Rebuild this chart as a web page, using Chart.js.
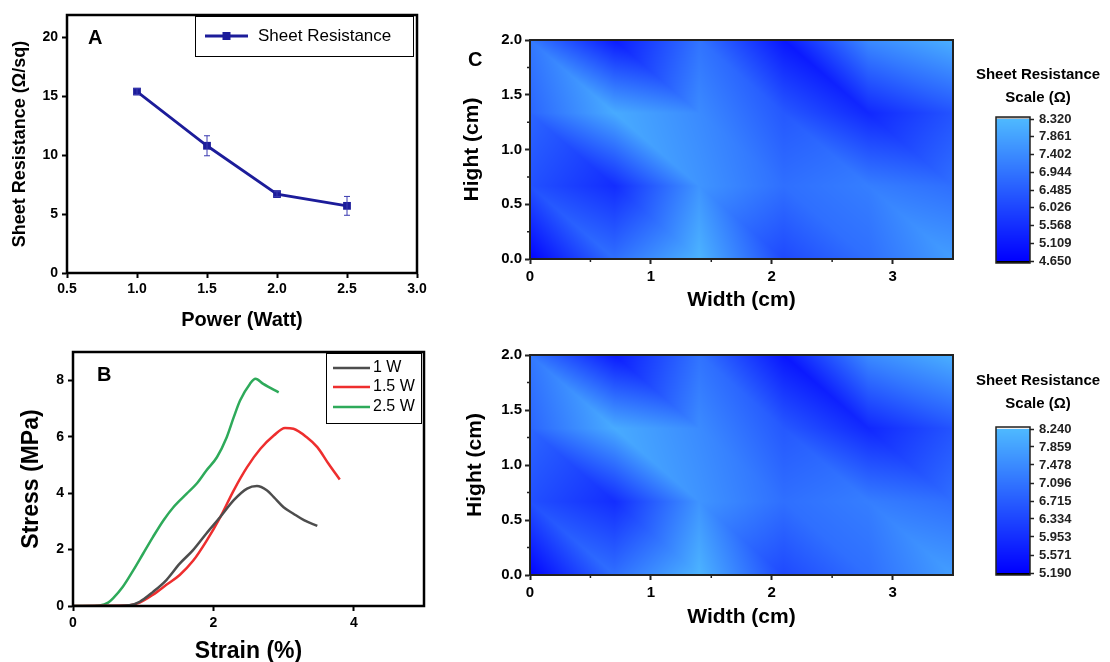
<!DOCTYPE html>
<html><head><meta charset="utf-8">
<script src="https://cdn.jsdelivr.net/npm/chart.js@4.4.1/dist/chart.umd.min.js"></script>
<style>
html,body{margin:0;padding:0;background:#fff;width:1110px;height:662px;overflow:hidden;}
.box{position:absolute;}
</style></head><body>
<div class="box" style="left:0;top:0;width:440px;height:330px"><canvas id="cA"></canvas></div>
<div class="box" style="left:0;top:330px;width:440px;height:332px"><canvas id="cB"></canvas></div>
<div class="box" style="left:450px;top:20px;width:520px;height:300px"><canvas id="cC1"></canvas></div>
<div class="box" style="left:450px;top:335px;width:520px;height:300px"><canvas id="cC2"></canvas></div>
<div class="box" style="left:963px;top:50px;width:147px;height:230px"><canvas id="cb1"></canvas></div>
<div class="box" style="left:963px;top:360px;width:147px;height:230px"><canvas id="cb2"></canvas></div>
<script>
// ---------- DATA ----------
const powerW = [1.0, 1.5, 2.0, 2.5];
const sheetRes = [15.4, 10.8, 6.7, 5.7];
const sheetResErr = [0.25, 0.85, 0.2, 0.8];
const powerTicks = [0.5, 1.0, 1.5, 2.0, 2.5, 3.0];
const resTicks = [0, 5, 10, 15, 20];

const strain1W = [0, 0.4, 0.8, 0.95, 1.14, 1.33, 1.52, 1.71, 1.9, 2.1, 2.29, 2.48, 2.62, 2.76, 2.86, 3.0, 3.14, 3.29, 3.48];
const stress1W = [0, 0.01, 0.03, 0.15, 0.5, 0.92, 1.5, 1.98, 2.57, 3.16, 3.75, 4.16, 4.25, 4.1, 3.86, 3.5, 3.27, 3.04, 2.84];
const strain15W = [0, 0.4, 0.81, 0.95, 1.14, 1.33, 1.52, 1.71, 1.9, 2.1, 2.29, 2.48, 2.67, 2.86, 3.02, 3.14, 3.33, 3.48, 3.64, 3.8];
const stress15W = [0, 0.01, 0.03, 0.12, 0.4, 0.75, 1.1, 1.6, 2.3, 3.16, 4.1, 4.92, 5.57, 6.04, 6.31, 6.28, 5.98, 5.63, 5.04, 4.48];
const strain25W = [0, 0.2, 0.38, 0.5, 0.57, 0.71, 0.86, 1.0, 1.14, 1.29, 1.43, 1.62, 1.76, 1.9, 2.05, 2.19, 2.29, 2.38, 2.52, 2.6, 2.71, 2.93];
const stress25W = [0, 0, 0.02, 0.12, 0.27, 0.68, 1.27, 1.86, 2.45, 3.04, 3.5, 3.98, 4.33, 4.8, 5.27, 5.98, 6.69, 7.28, 7.87, 8.05, 7.87, 7.57];
const strainTicks = [0, 2, 4];
const stressTicks = [0, 2, 4, 6, 8];

const mapWidthNodes = [0, 0.7, 1.4, 2.1, 2.8, 3.5];
const mapHightNodes = [0, 0.667, 1.333, 2.0];
// rows: hight = 0, 0.667, 1.333, 2.0
const mapTopValues = [
  [4.72, 6.85, 8.21, 6.10, 6.85, 7.77],
  [6.25, 5.55, 7.59, 6.85, 7.15, 6.85],
  [6.67, 8.03, 7.40, 6.40, 5.45, 6.30],
  [7.04, 5.20, 6.93, 5.10, 7.40, 8.14]
];
const mapBottomValues = [
  [5.25, 7.02, 8.15, 6.40, 7.02, 7.78],
  [6.50, 5.95, 7.63, 7.02, 7.26, 7.02],
  [6.87, 8.00, 7.48, 6.65, 5.85, 6.57],
  [7.17, 5.65, 7.08, 5.55, 7.48, 8.09]
];
const widthTicks = [0, 1, 2, 3];
const widthMinorTicks = [0.5, 1.5, 2.5];
const hightTicks = [0, 0.5, 1.0, 1.5, 2.0];
const hightMinorTicks = [0.25, 0.75, 1.25, 1.75];
const scaleTopTicks = [4.650, 5.109, 5.568, 6.026, 6.485, 6.944, 7.402, 7.861, 8.320];
const scaleBottomTicks = [5.190, 5.571, 5.953, 6.334, 6.715, 7.096, 7.478, 7.859, 8.240];

// ---------- HELPERS ----------
const FONT = "'Liberation Sans', Arial, sans-serif";
Chart.defaults.font.family = FONT;
Chart.defaults.color = '#000';
Chart.defaults.animation = false;

function setTicks(arr){ return s => { s.ticks = arr.map(v => ({value: v})); }; }
function clamp(t){ return t < 0 ? 0 : (t > 1 ? 1 : t); }
function cmap(t){ t = clamp(t); return [Math.round(78*t), Math.round(185*t), 255]; }

function framePlugin(lw, color){
  return { id:'frame', afterDraw(chart){
    const {ctx, chartArea:a} = chart;
    ctx.save(); ctx.strokeStyle = color; ctx.lineWidth = lw;
    ctx.strokeRect(a.left, a.top, a.right - a.left, a.bottom - a.top);
    ctx.restore();
  }};
}
function textPlugin(items){
  return { id:'txt', afterDraw(chart){
    const ctx = chart.ctx; ctx.save();
    items.forEach(it => {
      ctx.font = it.font; ctx.fillStyle = it.color || '#000';
      ctx.textAlign = it.align || 'left'; ctx.textBaseline = 'middle';
      ctx.fillText(it.text, it.x, it.y);
    });
    ctx.restore();
  }};
}
function minorTickPlugin(xMinor, yMinor, len, color){
  return { id:'minor', afterDraw(chart){
    const {ctx, chartArea:a, scales} = chart;
    ctx.save(); ctx.strokeStyle = color; ctx.lineWidth = 1.5;
    ctx.beginPath();
    xMinor.forEach(v => { const px = scales.x.getPixelForValue(v); ctx.moveTo(px, a.bottom); ctx.lineTo(px, a.bottom + len); });
    yMinor.forEach(v => { const py = scales.y.getPixelForValue(v); ctx.moveTo(a.left, py); ctx.lineTo(a.left - len, py); });
    ctx.stroke(); ctx.restore();
  }};
}
function interp(nx, ny, grid, x, y){
  let i = 0; while (i < nx.length - 2 && x > nx[i+1]) i++;
  let j = 0; while (j < ny.length - 2 && y > ny[j+1]) j++;
  const tx = clamp((x - nx[i]) / (nx[i+1] - nx[i]));
  const ty = clamp((y - ny[j]) / (ny[j+1] - ny[j]));
  const v00 = grid[j][i], v10 = grid[j][i+1], v01 = grid[j+1][i], v11 = grid[j+1][i+1];
  if (tx + ty <= 1) return v00 + (v10 - v00) * tx + (v01 - v00) * ty;
  return v11 + (v01 - v11) * (1 - tx) + (v10 - v11) * (1 - ty);
}
function heatPlugin(grid, vmin, vmax){
  return { id:'heat', beforeDatasetsDraw(chart){
    const {ctx, chartArea:a, scales} = chart;
    const L = Math.round(a.left), T = Math.round(a.top);
    const w = Math.round(a.right) - L, h = Math.round(a.bottom) - T;
    const img = ctx.createImageData(w, h);
    for (let j = 0; j < h; j++){
      const yv = scales.y.getValueForPixel(T + j + 0.5);
      for (let i = 0; i < w; i++){
        const xv = scales.x.getValueForPixel(L + i + 0.5);
        const v = interp(mapWidthNodes, mapHightNodes, grid, xv, yv);
        const c = cmap((v - vmin) / (vmax - vmin));
        const k = (j * w + i) * 4;
        img.data[k] = c[0]; img.data[k+1] = c[1]; img.data[k+2] = c[2]; img.data[k+3] = 255;
      }
    }
    ctx.putImageData(img, L, T);
  }};
}
function colorbarPlugin(vmin, vmax, topCap){
  return { id:'cbar', beforeDatasetsDraw(chart){
    const {ctx, chartArea:a, scales} = chart;
    ctx.save();
    for (let py = Math.floor(a.top); py < Math.ceil(a.bottom); py++){
      const v = scales.y.getValueForPixel(py + 0.5);
      const c = cmap((v - vmin) / (vmax - vmin));
      ctx.fillStyle = 'rgb(' + c.join(',') + ')';
      ctx.fillRect(a.left, py, a.right - a.left, 1);
    }
    ctx.fillStyle = topCap; ctx.fillRect(a.left, a.top - 2, a.right - a.left, 2);
    ctx.fillStyle = '#000'; ctx.fillRect(a.left, a.bottom, a.right - a.left, 2);
    ctx.strokeStyle = '#222'; ctx.lineWidth = 1.5;
    ctx.strokeRect(a.left, a.top - 2, a.right - a.left, a.bottom - a.top + 4);
    ctx.restore();
  }};
}
const base = { animation:false, responsive:true, maintainAspectRatio:false,
  plugins:{ legend:{display:false}, tooltip:{enabled:false} } };

function axis(opts){
  return Object.assign({
    type:'linear',
    grid:{display:true, drawOnChartArea:false, drawTicks:true, tickLength:5, tickWidth:2, tickColor:'#000'},
    border:{display:true, color:'#000', width:2},
  }, opts);
}

// ---------- PANEL A ----------
const navy = '#1c1c9a';
new Chart(document.getElementById('cA'), {
  type:'scatter',
  data:{ datasets:[{ label:'Sheet Resistance', data: powerW.map((x,i)=>({x, y:sheetRes[i]})), showLine:true,
    borderColor:navy, backgroundColor:navy, borderWidth:2.8, pointStyle:'rect', pointRadius:5.5, pointBorderWidth:0 }] },
  options: Object.assign({}, base, {
    layout:{padding:{top:15, right:23, left:0, bottom:0}},
    scales:{
      x: axis({ min:0.5, max:3.0, afterBuildTicks:setTicks(powerTicks), afterFit:s=>{s.height=57;},
        ticks:{font:{weight:'bold', size:14}, color:'#000', padding:3, maxRotation:0, autoSkip:false, callback:v=>v.toFixed(1)},
        title:{display:true, text:'Power (Watt)', font:{weight:'bold', size:20, lineHeight:1}, color:'#000', padding:{top:0,bottom:0}} }),
      y: axis({ min:0, max:21.9, afterBuildTicks:setTicks(resTicks), afterFit:s=>{s.width=67;},
        ticks:{font:{weight:'bold', size:14}, color:'#000', padding:4, autoSkip:false},
        title:{display:true, text:'Sheet Resistance (\u03A9/sq)', font:{weight:'bold', size:18, lineHeight:1}, color:'#000', padding:{top:11,bottom:0}} })
    }
  }),
  plugins:[
    framePlugin(2.5, '#000'),
    { id:'err', afterDatasetsDraw(chart){
      const {ctx, scales} = chart; ctx.save(); ctx.strokeStyle = '#3a3ab0'; ctx.lineWidth = 1;
      powerW.forEach((x,i)=>{
        const px = scales.x.getPixelForValue(x);
        const y1 = scales.y.getPixelForValue(sheetRes[i] + sheetResErr[i]);
        const y2 = scales.y.getPixelForValue(sheetRes[i] - sheetResErr[i]);
        ctx.beginPath(); ctx.moveTo(px, y1); ctx.lineTo(px, y2);
        ctx.moveTo(px-3, y1); ctx.lineTo(px+3, y1); ctx.moveTo(px-3, y2); ctx.lineTo(px+3, y2); ctx.stroke();
      });
      ctx.restore();
    }},
    { id:'legA', afterDraw(chart){
      const ctx = chart.ctx; ctx.save();
      ctx.strokeStyle = '#000'; ctx.lineWidth = 1; ctx.strokeRect(195.5, 16.5, 218, 40);
      ctx.strokeStyle = navy; ctx.lineWidth = 2.8; ctx.beginPath(); ctx.moveTo(205, 36); ctx.lineTo(248, 36); ctx.stroke();
      ctx.fillStyle = navy; ctx.fillRect(222.5, 32, 8, 8);
      ctx.fillStyle = '#000'; ctx.font = '17px ' + FONT; ctx.textBaseline = 'middle'; ctx.fillText('Sheet Resistance', 258, 36);
      ctx.restore();
    }},
    textPlugin([{text:'A', x:88, y:38, font:'bold 20px ' + FONT}])
  ]
});

// ---------- PANEL B ----------
const colB = ['#4d4d4d', '#ee2e2e', '#2eaa5a'];
const namesB = ['1 W', '1.5 W', '2.5 W'];
function ds(xs, ys, c){ return { data: xs.map((x,i)=>({x, y:ys[i]})), showLine:true, borderColor:c, backgroundColor:c, borderWidth:2.5, pointRadius:0, tension:0.3, cubicInterpolationMode:'monotone' }; }
new Chart(document.getElementById('cB'), {
  type:'scatter',
  data:{ datasets:[ ds(strain1W, stress1W, colB[0]), ds(strain15W, stress15W, colB[1]), ds(strain25W, stress25W, colB[2]) ] },
  options: Object.assign({}, base, {
    layout:{padding:{top:22, right:16, left:0, bottom:0}},
    scales:{
      x: axis({ min:0, max:5, afterBuildTicks:setTicks(strainTicks), afterFit:s=>{s.height=56;},
        ticks:{font:{weight:'bold', size:14}, color:'#000', padding:4, maxRotation:0, autoSkip:false},
        title:{display:true, text:'Strain (%)', font:{weight:'bold', size:23, lineHeight:1}, color:'#000', padding:{top:0,bottom:-1}} }),
      y: axis({ min:0, max:9, afterBuildTicks:setTicks(stressTicks), afterFit:s=>{s.width=73;},
        ticks:{font:{weight:'bold', size:14}, color:'#000', padding:4, autoSkip:false},
        title:{display:true, text:'Stress (MPa)', font:{weight:'bold', size:23, lineHeight:1}, color:'#000', padding:{top:20,bottom:0}} })
    }
  }),
  plugins:[
    framePlugin(2.5, '#000'),
    { id:'legB', afterDraw(chart){
      const ctx = chart.ctx; ctx.save();
      ctx.strokeStyle = '#000'; ctx.lineWidth = 1; ctx.strokeRect(326.5, 23.5, 95, 70);
      const ys = [38, 57, 77];
      namesB.forEach((n,i)=>{
        ctx.strokeStyle = colB[i]; ctx.lineWidth = 2.5; ctx.beginPath(); ctx.moveTo(333, ys[i]); ctx.lineTo(370, ys[i]); ctx.stroke();
        ctx.fillStyle = '#000'; ctx.font = '16px ' + FONT; ctx.textBaseline = 'middle'; ctx.fillText(n, 373, ys[i]);
      });
      ctx.restore();
    }},
    textPlugin([{text:'B', x:97, y:45, font:'bold 20px ' + FONT}])
  ]
});

// ---------- PANEL C (heatmaps) ----------
function heatChart(id, grid, vmin, vmax, padBottomTitle, yTitlePad, xAxisH, label){
  const plugins = [ heatPlugin(grid, vmin, vmax), framePlugin(2, '#222'), minorTickPlugin(widthMinorTicks, hightMinorTicks, 3, '#222') ];
  if (label) plugins.push(textPlugin([{text:label, x:18, y:40, font:'bold 20px ' + FONT}]));
  return new Chart(document.getElementById(id), {
    type:'scatter',
    data:{ datasets:[] },
    options: Object.assign({}, base, {
      layout:{padding:{top:20, right:17, left:0, bottom:0}},
      scales:{
        x: axis({ min:0, max:3.5, afterBuildTicks:setTicks(widthTicks), afterFit:s=>{s.height=xAxisH;},
          grid:{display:true, drawOnChartArea:false, drawTicks:true, tickLength:5, tickWidth:2, tickColor:'#222'},
          border:{display:true, color:'#222', width:2},
          ticks:{font:{weight:'bold', size:15}, color:'#000', padding:4, maxRotation:0, autoSkip:false},
          title:{display:true, text:'Width (cm)', font:{weight:'bold', size:21, lineHeight:1}, color:'#000', padding:{top:0,bottom:padBottomTitle}} }),
        y: axis({ min:0, max:2, afterBuildTicks:setTicks(hightTicks), afterFit:s=>{s.width=80;},
          grid:{display:true, drawOnChartArea:false, drawTicks:true, tickLength:5, tickWidth:2, tickColor:'#222'},
          border:{display:true, color:'#222', width:2},
          ticks:{font:{weight:'bold', size:15}, color:'#000', padding:3, autoSkip:false, callback:v=>v.toFixed(1)},
          title:{display:true, text:'Hight (cm)', font:{weight:'bold', size:21, lineHeight:1}, color:'#000', padding:{top:yTitlePad,bottom:0}} })
      }
    }),
    plugins
  });
}
heatChart('cC1', mapTopValues, scaleTopTicks[0], scaleTopTicks[8], 9.5, 11.5, 61, 'C');
heatChart('cC2', mapBottomValues, scaleBottomTicks[0], scaleBottomTicks[8], 7.5, 14.5, 60, null);

// ---------- COLOUR SCALES ----------
function colorbar(id, ticksArr, padBottom, titleY, topCap){
  return new Chart(document.getElementById(id), {
    type:'scatter',
    data:{ datasets:[] },
    options: Object.assign({}, base, {
      layout:{padding:{top:69, right:0, left:33, bottom:padBottom}},
      scales:{
        x:{ type:'linear', display:false, min:0, max:1 },
        y:{ type:'linear', position:'right', min:ticksArr[0], max:ticksArr[ticksArr.length-1],
          afterBuildTicks:setTicks(ticksArr), afterFit:s=>{s.width=80;},
          grid:{display:true, drawOnChartArea:false, drawTicks:true, tickLength:4, tickWidth:1.5, tickColor:'#222'},
          border:{display:false},
          ticks:{font:{weight:'bold', size:13}, color:'#222', padding:5, autoSkip:false, callback:v=>v.toFixed(3)} }
      }
    }),
    plugins:[ colorbarPlugin(ticksArr[0], ticksArr[ticksArr.length-1], topCap),
      textPlugin([{text:'Sheet Resistance', x:75, y:titleY, font:'bold 15px ' + FONT, align:'center'},
                  {text:'Scale (\u03A9)', x:75, y:titleY + 23, font:'bold 15px ' + FONT, align:'center'}]) ]
  });
}
colorbar('cb1', scaleTopTicks, 19, 25, '#b4b4b4');
colorbar('cb2', scaleBottomTicks, 17, 21, '#eeeeee');
</script>
</body></html>
